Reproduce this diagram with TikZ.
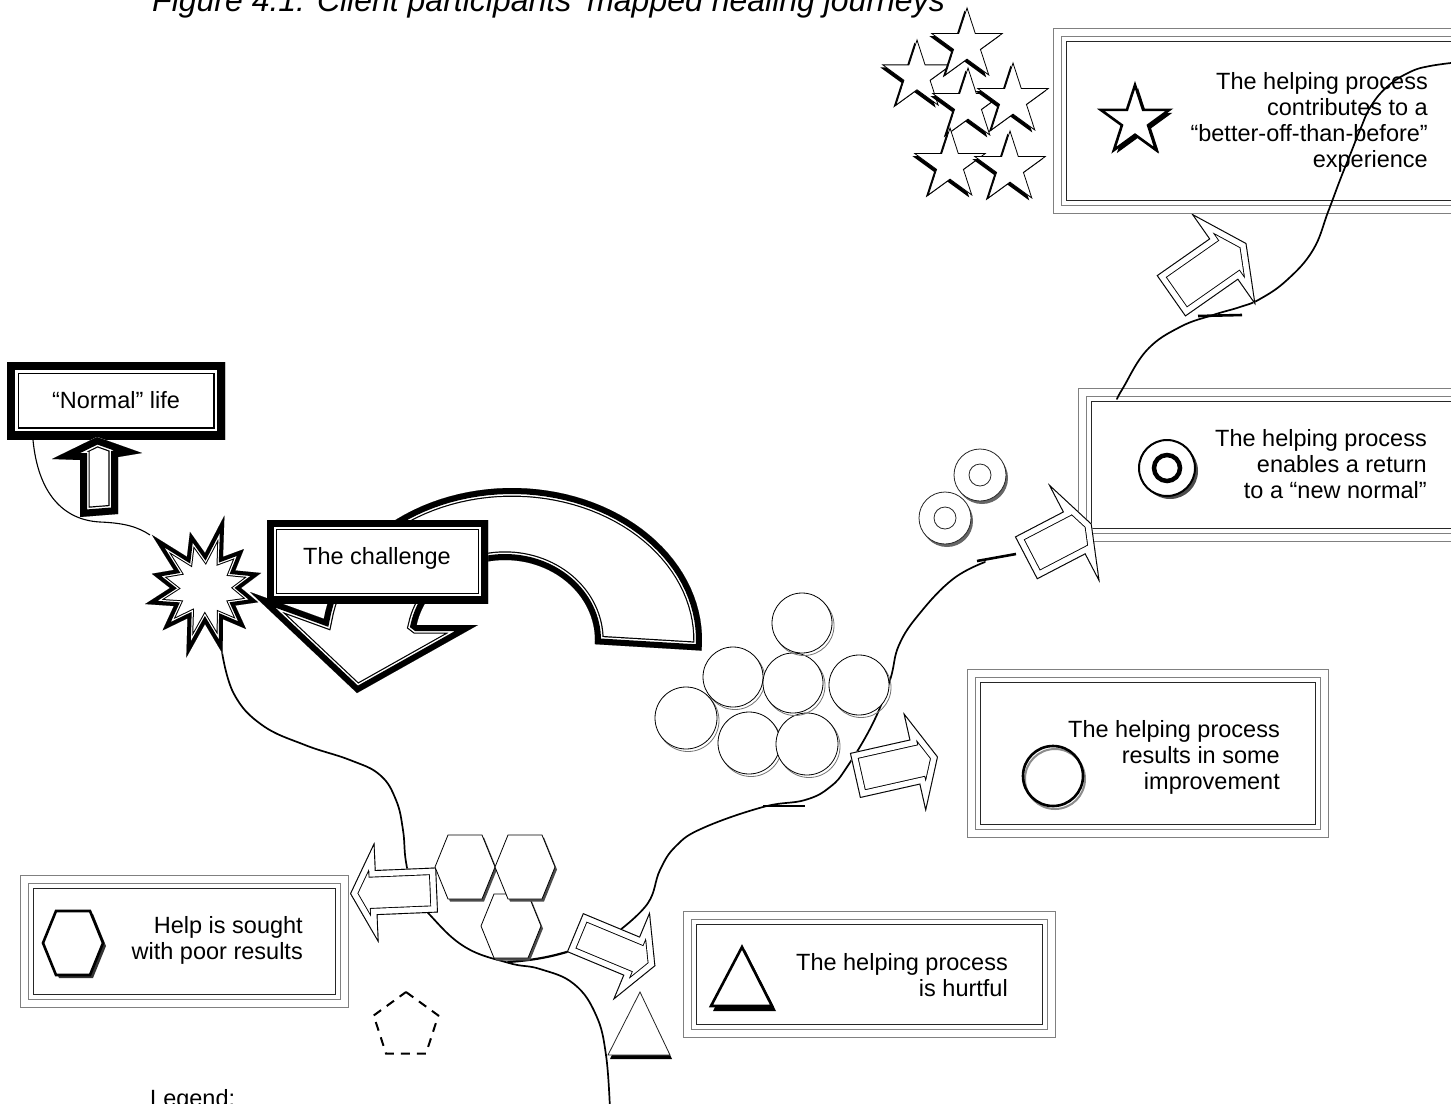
\documentclass[tikz,border=0pt]{standalone}
\usepackage{fontspec}
\setmainfont{Liberation Sans}
\newcommand{\heavy}[4]{%
  \pgfmathsetmacro\hwA{2*(#1+#2+#3)}%
  \pgfmathsetmacro\hwB{2*(#1+#2)}%
  \pgfmathsetmacro\hwC{2*(#1)}%
  \fill[white] #4;
  \begin{scope}
    \clip #4;
    \draw[line width=\hwA pt] #4;
    \draw[white, line width=\hwB pt] #4;
    \draw[line width=\hwC pt] #4;
  \end{scope}}
\newcommand{\dbox}[4]{%
  \fill[white] (#1,#2) rectangle (#3,#4);
  \draw[black!50, line width=1pt] (#1,#2) rectangle (#3,#4);
  \draw[black!50, line width=1pt] (#1+8,#2+8) rectangle (#3-8,#4-8);
  \draw[black!85, line width=1pt] (#1+13,#2+13) rectangle (#3-13,#4-13);}
\newcommand{\rlines}[1]{\vtop{\baselineskip=26pt\lineskiplimit=-30pt\halign{\hfil##\cr#1\crcr}}}
\newcommand{\starpath}[1]{(-90:#1) -- (-54:{0.382*#1}) -- (-18:#1) -- (18:{0.382*#1}) -- (54:#1) -- (90:{0.382*#1}) -- (126:#1) -- (162:{0.382*#1}) -- (198:#1) -- (234:{0.382*#1}) -- cycle}
\newcommand{\shstar}[6]{%
  \begin{scope}[shift={(#1+#5,#2+#6)}]\fill[black] \starpath{#3};\end{scope}
  \begin{scope}[shift={(#1,#2)}]\filldraw[fill=white,draw=black,line width=#4] \starpath{#3};\end{scope}}
\newcommand{\hexpath}{(-30,0) -- (-17,-32) -- (17,-32) -- (30,0) -- (17,32) -- (-17,32) -- cycle}
\newcommand{\shhex}[4]{%
  \begin{scope}[shift={(#1+2,#2+2.5)}]\fill[#4] \hexpath;\end{scope}
  \begin{scope}[shift={(#1,#2)}]\filldraw[fill=white,draw=black,line width=#3] \hexpath;\end{scope}}
\newcommand{\hollowarr}[7]{%
  \begin{scope}[shift={(#1,#2)},rotate=#3]
   \heavy{0.9}{5.5}{0.9}{(0,-#5) -- ({#4-#7},-#5) -- ({#4-#7},-#6) -- (#4,0) -- ({#4-#7},#6) -- ({#4-#7},#5) -- (0,#5) -- cycle}
  \end{scope}}
\newcommand{\bub}[3]{%
  \draw[black!55,line width=0.8pt] (#1+2,#2+2.5) circle (#3pt);
  \filldraw[fill=white,draw=black,line width=0.8pt] (#1,#2) circle (#3pt);}
\newcommand{\ringc}[2]{%
  \fill[black!60] (#1+2,#2+3) circle (26pt);
  \filldraw[fill=white,draw=black!85,line width=0.8pt] (#1,#2) circle (26pt);
  \draw[black!85,line width=0.8pt] (#1,#2) circle (11pt);}
\begin{document}
\begin{tikzpicture}[x=1pt,y=-1pt,
  txt/.style={font=\fontsize{23.5}{26}\selectfont, inner sep=0pt},
  ttl/.style={font=\fontsize{32}{36}\selectfont\itshape, inner sep=0pt},
  journey/.style={line width=1.7pt, line cap=round},
  tickmark/.style={line width=2.6pt}]
\useasboundingbox (0,0) rectangle (1451,1103);
\clip (0,0) rectangle (1451,1103);

% title
\node[ttl, anchor=base west] (title) at (152,11) {Figure 4.1: Client participants’ mapped healing journeys};

% outcome boxes
\dbox{1053}{28}{1470}{213}
\shstar{1135}{121}{36}{2.6pt}{3}{3}
\node[txt, anchor=base east] (tstar) at (1428,89) {\rlines{The helping process\cr contributes to a\cr “better-off-than-before”\cr experience}};

\dbox{1078}{388}{1470}{541}
\fill[black!70] (1170,471) circle (28pt);
\filldraw[fill=white,draw=black,line width=2pt] (1167,468) circle (28pt);
\draw[line width=4.5pt] (1167,468) circle (13pt);
\node[txt, anchor=base east] (tring) at (1427,446) {\rlines{The helping process\cr enables a return\cr to a “new normal”}};

\dbox{967}{669}{1328}{837}
\draw[black!45,line width=2pt] (1055,779) circle (30pt);
\draw[line width=2.6pt] (1053,776) circle (30pt);
\node[txt, anchor=base east] (timp) at (1280,737) {\rlines{The helping process\cr results in some\cr improvement}};

\dbox{683}{911}{1055}{1037}
\fill[black] (745,950) -- (776,1011) -- (713,1011) -- cycle;
\filldraw[fill=white,draw=black,line width=2.6pt,line join=miter] (742,947) -- (772,1006) -- (711,1006) -- cycle;
\node[txt, anchor=base east] (thurt) at (1008,970) {\rlines{The helping process\cr is hurtful}};

\dbox{20}{875}{348}{1007}
\begin{scope}[shift={(76,946)}]\fill[black!80] \hexpath;\end{scope}
\begin{scope}[shift={(73,943)}]\filldraw[fill=white,draw=black,line width=2.6pt] \hexpath;\end{scope}
\node[txt, anchor=base east] (thex) at (303,933) {\rlines{Help is sought\cr with poor results}};

% journey lines
\draw[line width=1.1pt] (33,440) .. controls (38,492) and (62,520) .. (100,522) .. controls (125,523) and (138,527) .. (150,535);
\draw[journey] plot[smooth, tension=0.7] coordinates {(222,652) (234,694) (262,725) (305,745) (350,760) (380,775) (396,800) (403,830) (406,862) (414,893) (430,915) (465,947) (509,963) (540,969) (574,984) (596,1015) (606,1055) (610,1110)};
\draw[journey, line width=2.2pt] (508,962) .. controls (535,960) and (550,957) .. (570,951);
\draw[journey] plot[smooth, tension=0.7] coordinates {(620,930) (648,903) (660,870) (676,846) (703,828) (763,807) (805,800) (830,787) (847,767) (873,723) (890,680) (899,645) (920,613) (953,579) (985,562)};
\draw[tickmark] (763,806) -- (805,806);
\draw[tickmark] (977,561) -- (1016,554);
\draw[journey] plot[smooth, tension=0.7] coordinates {(1117,399) (1123,388) (1147,350) (1180,327) (1213,315) (1240,307) (1260,299) (1287,280) (1313,250) (1328,212) (1340,180) (1350,155) (1360,130) (1371,106) (1388,86) (1410,72) (1430,66) (1460,62)};
\draw[tickmark] (1198,316) -- (1242,315);

% U-turn arrow of the challenge
\heavy{6}{1.5}{1.2}{plot[domain=-4:172,samples=60] ({512+190*cos(\x)},{640-152*sin(\x)}) -- (250,592) -- (357,693) -- (478,625) -- (417,625) -- plot[domain=169:-3,samples=60] ({505+90*cos(\x)},{640-80*sin(\x)}) -- cycle}

% starburst
\begin{scope}[shift={(205,588)}]
\heavy{4}{1.2}{1}{(-135:75) -- (-120:36) -- (-105:58) -- (-90:35) -- (-75:75) -- (-60:36) -- (-45:55) -- (-30:35) -- (-15:58) -- (0:36) -- (15:55) -- (30:35) -- (45:58) -- (60:36) -- (75:68) -- (90:36) -- (105:72) -- (120:35) -- (135:60) -- (150:36) -- (165:62) -- (180:35) -- (195:55) -- (210:36) -- cycle}
\end{scope}

% challenge box
\heavy{7}{1.8}{1.2}{(267,520) rectangle (488,603)}
\node[txt, anchor=base] (tchal) at (377,564) {The challenge};

% normal life box and arrow
\heavy{8}{2.5}{1.5}{(7,362) rectangle (225,439)}
\node[txt, anchor=base] (tnorm) at (116,408) {“Normal” life};
\heavy{7}{1.5}{1.2}{(97,437) -- (142,453) -- (118,457) -- (118,514) -- (80,517) -- (80,460) -- (52,459) -- cycle}

% hollow arrows
\hollowarr{1171}{296}{35}{92}{25}{56}{28}
\hollowarr{1026}{558}{27.5}{74}{24}{56}{20}
\hollowarr{855}{775.5}{12.7}{85}{23}{51}{24}
\hollowarr{437}{890}{182.4}{87}{22.5}{50.5}{26.5}
\hollowarr{575}{932.5}{-22.6}{87}{21}{48}{26}

% star cluster
\shstar{917}{76}{36}{0.8pt}{-2.5}{2.5}
\shstar{967}{45}{37}{0.8pt}{-2.5}{2.5}
\shstar{968}{105}{37}{0.8pt}{-2.5}{2.5}
\shstar{1013}{100}{37}{0.8pt}{-2.5}{2.5}
\shstar{950}{165}{37}{0.8pt}{-2.5}{2.5}
\shstar{1010}{168}{37}{0.8pt}{-2.5}{2.5}

% rings
\ringc{980}{475}
\ringc{945}{518}

% bubbles
\bub{686}{718}{31}
\bub{733}{677}{30}
\bub{749}{743}{31}
\bub{807}{744}{31}
\bub{793}{683}{30}
\bub{802}{623}{30}
\bub{859}{685}{30}

% hexagons
\shhex{511}{926}{0.8pt}{black!70}
\shhex{465}{867}{0.8pt}{black!70}
\shhex{525}{867}{0.8pt}{black!70}

% small triangle
\fill[black] (641,995) -- (672,1059) -- (610,1059) -- cycle;
\filldraw[fill=white,draw=black!85,line width=0.8pt] (640,992) -- (670,1055) -- (608,1055) -- cycle;

% pentagon
\begin{scope}[shift={(406,1026)}]
\draw[line width=2pt, dash pattern=on 9pt off 7pt] (-90:34) -- (-18:34) -- (54:34) -- (126:34) -- (198:34) -- cycle;
\end{scope}

\node[txt, anchor=base west] (legend) at (150,1106) {Legend:};
\end{tikzpicture}
\end{document}
